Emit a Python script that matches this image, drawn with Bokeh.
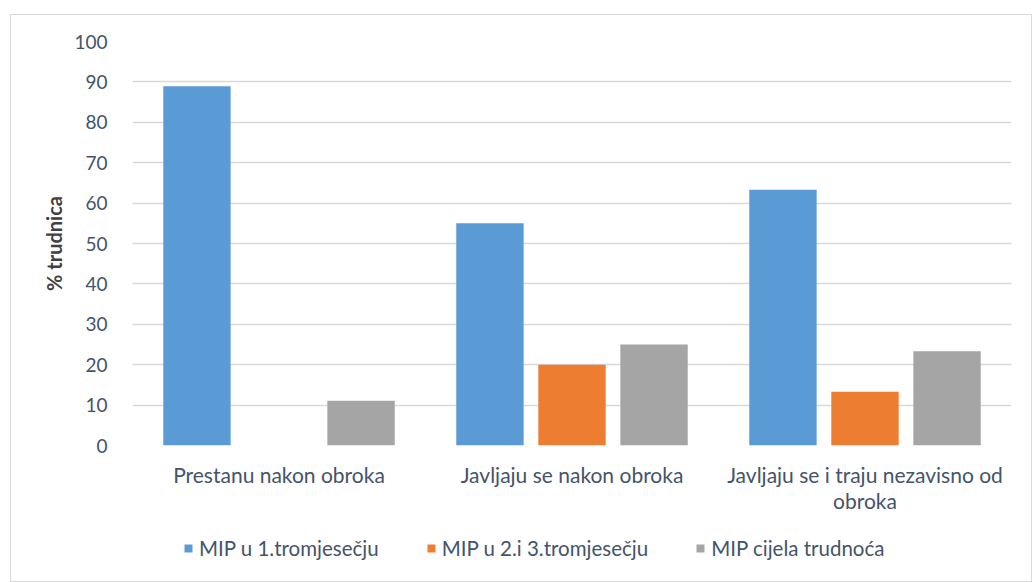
from bokeh.plotting import figure
from bokeh.models import ColumnDataSource, FactorRange, Legend, LegendItem
from bokeh.layouts import column
from bokeh.transform import dodge
from bokeh.embed import file_html
from bokeh.resources import INLINE

categories = ["Prestanu nakon obroka", "Javljaju se nakon obroka",
              "Javljaju se i traju nezavisno od\nobroka"]
series_names = ["MIP u 1.tromjesečju", "MIP u 2.i 3.tromjesečju", "MIP cijela trudnoća"]
mip_1 = [88.9, 55.0, 63.3]
mip_2_3 = [0.0, 20.0, 13.3]
mip_cijela = [11.1, 25.0, 23.3]
y_ticks = [0, 10, 20, 30, 40, 50, 60, 70, 80, 90, 100]

colors = ["#5B9BD5", "#ED7D31", "#A5A5A5"]
FONT = "Lato"
TXT = "#44546A"

src = ColumnDataSource(dict(cat=categories, a=mip_1, b=mip_2_3, c=mip_cijela))

p = figure(x_range=FactorRange(*categories, range_padding=0), y_range=(0, 100),
           width=1020, height=520, output_backend="svg", toolbar_location=None,
           min_border_left=121, min_border_top=26, min_border_bottom=90,
           min_border_right=20)
p.outline_line_color = None

for key, off, col in zip(["a", "b", "c"], [-0.28, 0.0, 0.28], colors):
    p.vbar(x=dodge("cat", off, range=p.x_range), top=key, width=0.23,
           source=src, fill_color=col, line_color=None)

p.yaxis.ticker = y_ticks
p.ygrid.grid_line_color = "#D9D9D9"
p.ygrid.grid_line_width = 1.5
p.xgrid.grid_line_color = None

for ax in (p.xaxis[0], p.yaxis[0]):
    ax.axis_line_color = None
    ax.major_tick_line_color = None
    ax.minor_tick_line_color = None
    ax.major_label_text_font = FONT
    ax.major_label_text_color = TXT

p.yaxis.major_label_text_font_size = "19px"
p.xaxis.major_label_text_font_size = "21px"
p.xaxis.major_label_text_line_height = 1.05
p.yaxis.major_label_standoff = 19
p.xaxis.major_label_standoff = 10
p.yaxis.axis_label = "% trudnica"
p.yaxis.axis_label_text_font = FONT
p.yaxis.axis_label_text_font_style = "bold"
p.yaxis.axis_label_text_font_size = "20px"
p.yaxis.axis_label_text_color = "#404040"
p.yaxis.axis_label_standoff = 5

# legend strip below the chart (its frame is aligned with the chart's frame)
lg = figure(width=1020, height=46, x_range=(0, 1), y_range=(0, 1),
            output_backend="svg", toolbar_location=None,
            min_border=0, x_axis_location=None, y_axis_location=None)
lg.outline_line_color = None
lg.xgrid.grid_line_color = None
lg.ygrid.grid_line_color = None
swatch = ColumnDataSource(dict(x=[0.5], top=[0]))
items = []
for name, col in zip(series_names, colors):
    r = lg.vbar(x="x", top="top", width=0.01, source=swatch, fill_color=col, line_color=None)
    items.append(LegendItem(label=name, renderers=[r]))
legend = Legend(items=items, orientation="horizontal", location=(51, 21),
                label_text_font=FONT, label_text_font_size="20.5px", label_text_color=TXT,
                glyph_width=10, glyph_height=10, label_standoff=6, spacing=47,
                padding=0, margin=0, border_line_color=None, background_fill_alpha=0)
lg.add_layout(legend, "center")

layout = column(p, lg, spacing=0)
layout.margin = (14, 6, 0, 10)
layout.styles = {"border": "1px solid #D9D9D9"}

open("out.html", "w").write(file_html(layout, INLINE))
